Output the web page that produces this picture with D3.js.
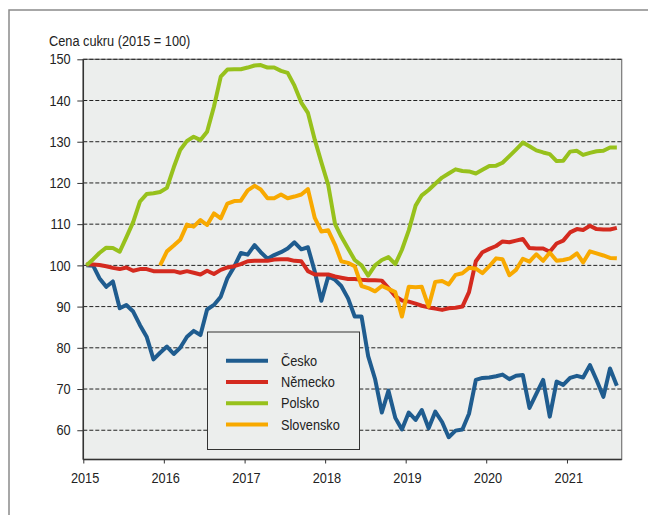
<!DOCTYPE html>
<html>
<head>
<meta charset="utf-8">
<script src="https://cdn.jsdelivr.net/npm/d3@7"></script>
<style>
  body { margin: 0; background: #fff; }
  svg text { font-family: "Liberation Sans", Arial, sans-serif; fill: #222; }
</style>
</head>
<body>
<svg width="648" height="515"></svg>
<script>
// monthly values, Jan 2015 - Aug 2021
const cesko = [100, 99.9, 96.9, 94.8, 96.1, 89.6, 90.4, 88.8, 85.5, 82.7, 77.2, 78.8,
    80.3, 78.5, 80, 82.7, 84.1, 83.1, 89.3, 90.4, 92.4, 96.9, 99.7, 103,
    102.6, 104.9, 103.2, 101.6, 102.5, 103.2, 104.1, 105.6, 103.9, 104.4, 98.5, 91.4,
    97.3, 96.5, 95, 92, 87.6, 87.6, 78, 72.5, 64.3, 69.6, 63, 60.2,
    64.3, 62.5, 64.9, 60.5, 64.5, 62, 58.3, 59.9, 60.2, 64, 72.2, 72.7,
    72.8, 73.1, 73.5, 72.4, 73.2, 73.4, 65.4, 68.8, 72.2, 63.3, 71.8, 71,
    72.7, 73.2, 72.8, 75.8, 72.2, 68.1, 75, 70.8];

const nemecko = [100.3, 100.2, 100.1, 99.8, 99.4, 99.1, 99.5, 98.7, 99.1, 99.1, 98.6, 98.6,
    98.6, 98.6, 98.2, 98.6, 98.2, 97.8, 98.7, 97.9, 98.9, 99.5, 99.8, 100.3,
    101, 101.1, 101.1, 101.1, 101.4, 101.5, 101.5, 101.1, 101, 98.6, 97.8, 97.8,
    97.8, 97.3, 97, 96.7, 96.7, 96.5, 96.4, 96.4, 96.3, 94.5, 92.5, 91.5,
    91.2, 90.7, 90.2, 89.8, 89.5, 89.2, 89.6, 89.7, 90, 93.5, 101, 103.2,
    104, 104.7, 105.8, 105.6, 106, 106.4, 104.2, 104.1, 104.1, 103.3, 105.3, 106,
    108, 108.8, 108.6, 109.6, 108.8, 108.7, 108.7, 109.1];

const polsko = [100, 101.5, 103, 104.3, 104.2, 103.3, 106.8, 110.5, 115.5, 117.3, 117.5, 117.8,
    118.8, 123.8, 128, 130.2, 131.2, 130.4, 132.4, 138.5, 145.8, 147.5, 147.6, 147.6,
    148, 148.5, 148.6, 148, 148, 147.2, 146.7, 143.6, 139.5, 137, 130.5, 125,
    119.5, 110, 107, 104.1, 101.3, 100, 97.5, 100, 101.3, 102, 100.3, 103.8,
    108.5, 114.5, 117, 118.3, 119.8, 121.3, 122.3, 123.3, 122.9, 122.8, 122.3, 123.2,
    124.1, 124.2, 124.9, 126.5, 128.1, 129.8, 128.9, 127.9, 127.4, 127, 125.3, 125.4,
    127.6, 127.8, 126.8, 127.3, 127.7, 127.8, 128.6, 128.6];

// Slovensko starts in Dec 2015
const slovensko = [null, null, null, null, null, null, null, null, null, null, null,
    100, 103.4, 104.8, 106.2, 109.9, 109.4, 111, 109.8, 112.6, 111.4, 115, 115.6, 115.7,
    118.2, 119.3, 118.4, 116.3, 116.3, 117.2, 116.3, 116.7, 117.2, 118.5, 111.5, 108.2,
    108.5, 105, 101, 100.6, 99.8, 95, 94.5, 93.7, 95, 94.3, 93.5, 87.6,
    94.8, 94.7, 94.8, 90, 96, 96.2, 95.4, 97.7, 98.1, 99.4, 99.2, 98.1,
    99.8, 101.7, 101.5, 97.6, 98.9, 101.6, 100.9, 102.7, 101.1, 103.1, 101.1, 101.3,
    101.7, 102.9, 100.7, 103.4, 102.9, 102.4, 101.8, 101.7];

const seriesNames = ["Česko", "Německo", "Polsko", "Slovensko"];
const seriesColors = ["#1f5c8f", "#d42a1f", "#97c11c", "#f8a900"];
const yTicks = [60, 70, 80, 90, 100, 110, 120, 130, 140, 150];
const yearTicks = [2015, 2016, 2017, 2018, 2019, 2020, 2021];

const months = cesko.map((d, i) => new Date(2015, i, 15));
const allSeries = [cesko, nemecko, polsko, slovensko];

// narrow look: squeeze regular sans horizontally
const squeeze = 0.88;
const fontSize = 14.5;

const svg = d3.select("svg");

// outer frame
svg.append("rect")
    .attr("x", 9).attr("y", 10)
    .attr("width", 700).attr("height", 600)
    .attr("fill", "none")
    .attr("stroke", "#8a8a8a")
    .attr("stroke-width", 1.5);

const x = d3.scaleTime()
    .domain([new Date(2015, 0, 1), new Date(2021, 8, 6)])
    .range([83.3, 621.7]);

const y = d3.scaleLinear()
    .domain([52.9, 150])
    .range([459.5, 59.3]);

// plot background
svg.append("rect")
    .attr("x", x.range()[0]).attr("y", y(150))
    .attr("width", x.range()[1] - x.range()[0])
    .attr("height", y.range()[0] - y(150))
    .attr("fill", "#eceeed")
    .attr("stroke", "#777")
    .attr("stroke-width", 1.2);

// gridlines
svg.append("g")
    .selectAll("line")
    .data(yTicks)
    .join("line")
    .attr("x1", x.range()[0]).attr("x2", x.range()[1])
    .attr("y1", d => y(d)).attr("y2", d => y(d))
    .attr("stroke", "#222")
    .attr("stroke-width", 1)
    .attr("stroke-dasharray", "4,2");

// axes
const yAxis = svg.append("g")
    .attr("transform", `translate(${x.range()[0]},0)`)
    .call(d3.axisLeft(y).tickValues(yTicks).tickSize(6).tickPadding(8.3).tickSizeOuter(0));
yAxis.select(".domain").remove();
yAxis.selectAll("line").attr("stroke", "#333");
yAxis.selectAll("text")
    .attr("font-size", fontSize)
    .attr("transform", `scale(${squeeze},1)`);

const xAxis = svg.append("g")
    .attr("transform", `translate(0,${y.range()[0]})`)
    .call(d3.axisBottom(x)
        .tickValues(yearTicks.map(yr => new Date(yr, 0, 1)))
        .tickFormat(d3.timeFormat("%Y"))
        .tickSize(4).tickPadding(9).tickSizeOuter(0));
xAxis.select(".domain").remove();
xAxis.selectAll("line").attr("stroke", "#333");
xAxis.selectAll("text")
    .attr("font-size", fontSize)
    .attr("transform", `scale(${squeeze},1)`)
    .attr("dx", 1.5);

// axis lines
svg.append("line")
    .attr("x1", x.range()[0]).attr("x2", x.range()[0])
    .attr("y1", y(150)).attr("y2", y.range()[0])
    .attr("stroke", "#333").attr("stroke-width", 1.5);
svg.append("line")
    .attr("x1", x.range()[0]).attr("x2", x.range()[1])
    .attr("y1", y.range()[0]).attr("y2", y.range()[0])
    .attr("stroke", "#333").attr("stroke-width", 1.5);

// title
svg.append("text")
    .attr("transform", `translate(49,46) scale(${squeeze},1)`)
    .attr("font-size", fontSize)
    .text("Cena cukru (2015 = 100)");

// series lines
const line = d3.line()
    .defined(d => d[1] != null)
    .x(d => x(d[0]))
    .y(d => y(d[1]));

svg.append("g")
    .selectAll("path")
    .data(allSeries)
    .join("path")
    .attr("d", s => line(s.map((v, i) => [months[i], v])))
    .attr("fill", "none")
    .attr("stroke", (s, i) => seriesColors[i])
    .attr("stroke-width", 4)
    .attr("stroke-linejoin", "round");

// legend
const legend = svg.append("g");
legend.append("rect")
    .attr("x", 207.5).attr("y", 332)
    .attr("width", 152).attr("height", 117.5)
    .attr("fill", "#eceeed")
    .attr("stroke", "#333")
    .attr("stroke-width", 1);

const rows = legend.selectAll("g.row")
    .data(seriesNames)
    .join("g")
    .attr("class", "row")
    .attr("transform", (d, i) => `translate(0,${360.7 + i * 21.3})`);

rows.append("line")
    .attr("x1", 226).attr("x2", 268)
    .attr("stroke", (d, i) => seriesColors[i])
    .attr("stroke-width", 4);

rows.append("text")
    .attr("transform", `translate(281,0) scale(${squeeze},1)`)
    .attr("dy", "0.35em")
    .attr("font-size", fontSize)
    .text(d => d);
</script>
</body>
</html>
